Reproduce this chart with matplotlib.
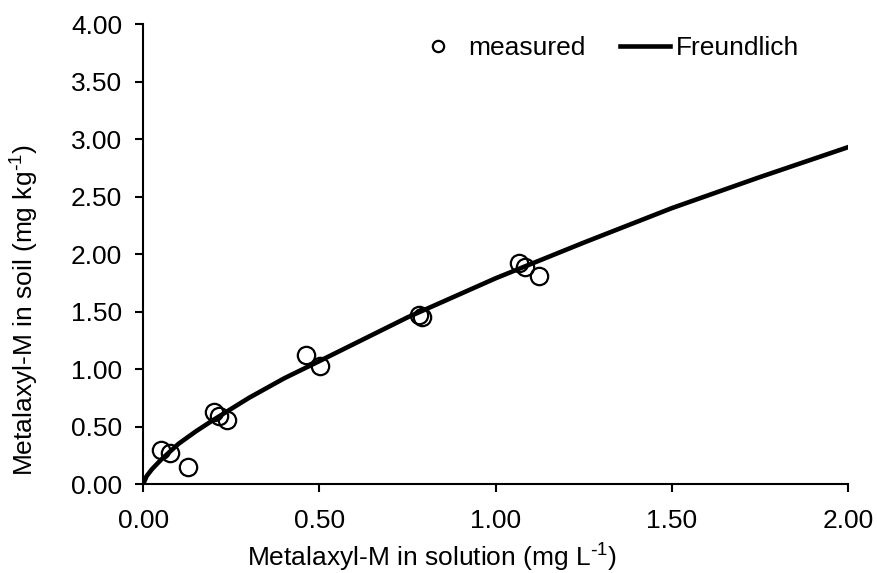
import matplotlib
matplotlib.use("Agg")
import matplotlib.pyplot as plt

plt.rcParams['font.family'] = ['Liberation Sans', 'DejaVu Sans']
plt.rcParams['mathtext.default'] = 'regular'

# measured points
measured_x = [0.051, 0.077, 0.128, 0.201, 0.216, 0.238, 0.462, 0.502, 0.784, 0.792, 1.067, 1.084, 1.123]
measured_y = [0.30, 0.27, 0.15, 0.63, 0.59, 0.56, 1.12, 1.03, 1.47, 1.45, 1.92, 1.89, 1.81]

# Freundlich curve
fit_x = [0.0, 0.01, 0.025, 0.05, 0.1, 0.15, 0.2, 0.3, 0.4, 0.5, 0.75, 1.0, 1.25, 1.5, 1.75, 2.0]
fit_y = [0.0, 0.07, 0.13, 0.21, 0.35, 0.46, 0.56, 0.75, 0.92, 1.07, 1.45, 1.79, 2.10, 2.40, 2.67, 2.93]

x_ticks = [0.0, 0.5, 1.0, 1.5, 2.0]
y_ticks = [0.0, 0.5, 1.0, 1.5, 2.0, 2.5, 3.0, 3.5, 4.0]

fig = plt.figure(figsize=(8.78, 5.73), dpi=100)
ax = fig.add_axes([0.163, 0.155, 0.803, 0.803])

ax.plot(fit_x, fit_y, color='black', linewidth=3.3, label='Freundlich', zorder=2)
ax.plot(measured_x, measured_y, linestyle='none', marker='o', markersize=12.5,
        markerfacecolor='none', markeredgecolor='black', markeredgewidth=1.6,
        label='measured', zorder=3)

ax.set_xlim(0, 2.0)
ax.set_ylim(0, 4.0)
ax.set_xticks(x_ticks)
ax.set_yticks(y_ticks)
ax.set_xticklabels([f'{v:.2f}' for v in x_ticks])
ax.set_yticklabels([f'{v:.2f}' for v in y_ticks])
ax.tick_params(axis='both', direction='out', length=6, width=1.5, labelsize=19)
ax.tick_params(axis='y', pad=9)
ax.tick_params(axis='x', pad=12)

for s in ['top', 'right']:
    ax.spines[s].set_visible(False)
for s in ['left', 'bottom']:
    ax.spines[s].set_linewidth(1.5)

ax.set_xlabel(r'Metalaxyl-M in solution (mg L$^{\text{-}1}$)', fontsize=19)
ax.set_ylabel(r'Metalaxyl-M in soil (mg kg$^{\text{-}1}$)', fontsize=19)
ax.xaxis.set_label_coords(0.41, -0.125)
ax.yaxis.set_label_coords(-0.145, 0.378)

handles, labels = ax.get_legend_handles_labels()
leg = ax.legend(handles[::-1], labels[::-1], loc='center left', ncol=2, frameon=False,
                bbox_to_anchor=(0.382, 0.948), borderaxespad=0, borderpad=0,
                fontsize=19, markerscale=0.65,
                handlelength=1.9, columnspacing=1.3, handletextpad=0.22)

fig.savefig('out.png', dpi=100)
